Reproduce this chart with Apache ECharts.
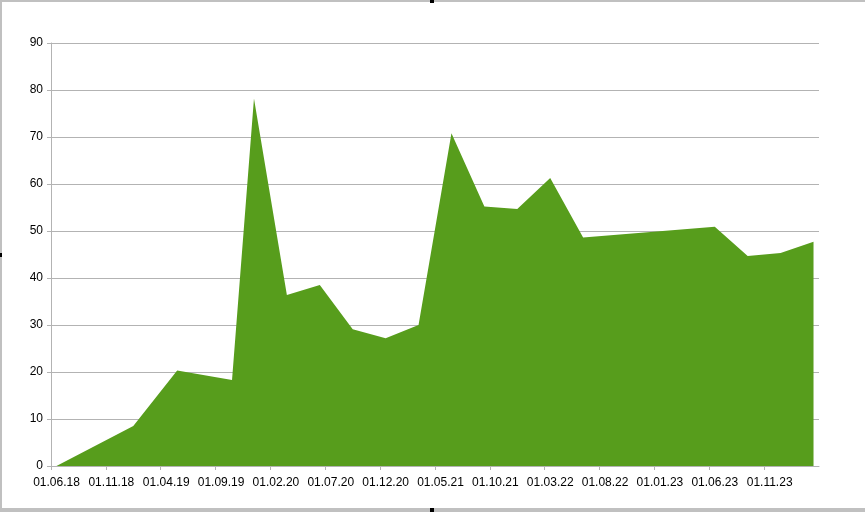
<!DOCTYPE html>
<html>
<head>
<meta charset="utf-8">
<script src="https://cdn.jsdelivr.net/npm/echarts@6/dist/echarts.min.js"></script>
<style>
html,body{margin:0;padding:0;background:#fff;}
#chart{width:865px;height:512px;}
</style>
</head>
<body>
<div id="chart"></div>
<script>
// Data: observation month (YYYY-MM) and value
var dates = ['2018-06','2019-01','2019-05','2019-10','2019-12','2020-03','2020-06','2020-09','2020-12','2021-03','2021-06','2021-09','2021-12','2022-03','2022-06','2023-06','2023-09','2023-12','2024-03'];
var values = [0, 8.5, 20.3, 18.3, 78.2, 36.4, 38.5, 29.1, 27.2, 30.0, 70.8, 55.2, 54.7, 61.3, 48.6, 50.9, 44.7, 45.3, 47.7];
var yTicks = [0,10,20,30,40,50,60,70,80,90];

var startYear = 2018, startMonth = 6;
function monthIndex(s){
  var p = s.split('-');
  return (parseInt(p[0],10)-startYear)*12 + (parseInt(p[1],10)-startMonth);
}
function label(v){
  var t = Math.round(v) + (startMonth-1);
  var y = startYear + Math.floor(t/12);
  var m = t%12 + 1;
  return '01.' + (m<10?'0':'') + m + '.' + String(y).slice(2);
}
var seriesData = dates.map(function(d,i){ return [monthIndex(d)+0.5, values[i]]; });

var chart = echarts.init(document.getElementById('chart'), null, {renderer:'canvas'});
var font = 'Liberation Sans, Arial, sans-serif';
chart.setOption({
  animation:false,
  backgroundColor:'#fff',
  grid:{left:51, right:46, top:43, bottom:46, containLabel:false},
  xAxis:{
    type:'value', min:0, max:70, interval:5,
    axisLine:{show:true, onZero:false, lineStyle:{color:'#b3b3b3', width:1}},
    axisTick:{show:true, length:4, lineStyle:{color:'#b3b3b3'}},
    splitLine:{show:false},
    axisLabel:{
      color:'#000', fontFamily:font, fontSize:12, margin:11,
      padding:[0,0,0,11], showMaxLabel:false,
      formatter:function(v){ return label(v); }
    }
  },
  yAxis:{
    type:'value', min:yTicks[0], max:yTicks[yTicks.length-1], interval:10,
    axisLine:{show:true, lineStyle:{color:'#b3b3b3', width:1}},
    axisTick:{show:true, length:4, lineStyle:{color:'#b3b3b3'}},
    splitLine:{show:true, lineStyle:{color:'#b3b3b3', width:1}},
    axisLabel:{color:'#000', fontFamily:font, fontSize:12, margin:8}
  },
  series:[{
    type:'line',
    data:seriesData,
    symbol:'none',
    lineStyle:{width:0, color:'#579d1c'},
    areaStyle:{color:'#579d1c', opacity:1},
    itemStyle:{color:'#579d1c'}
  }],
  graphic:[
    {type:'rect', shape:{x:0,y:0,width:865,height:2}, style:{fill:'#c0c0c0'}, silent:true},
    {type:'rect', shape:{x:0,y:0,width:2,height:512}, style:{fill:'#c0c0c0'}, silent:true},
    {type:'rect', shape:{x:0,y:508,width:865,height:4}, style:{fill:'#c0c0c0'}, silent:true},
    {type:'rect', shape:{x:430,y:0,width:4,height:3}, style:{fill:'#000'}, silent:true},
    {type:'rect', shape:{x:430,y:508,width:4,height:4}, style:{fill:'#000'}, silent:true},
    {type:'rect', shape:{x:0,y:253,width:2,height:4}, style:{fill:'#000'}, silent:true}
  ]
});
</script>
</body>
</html>
